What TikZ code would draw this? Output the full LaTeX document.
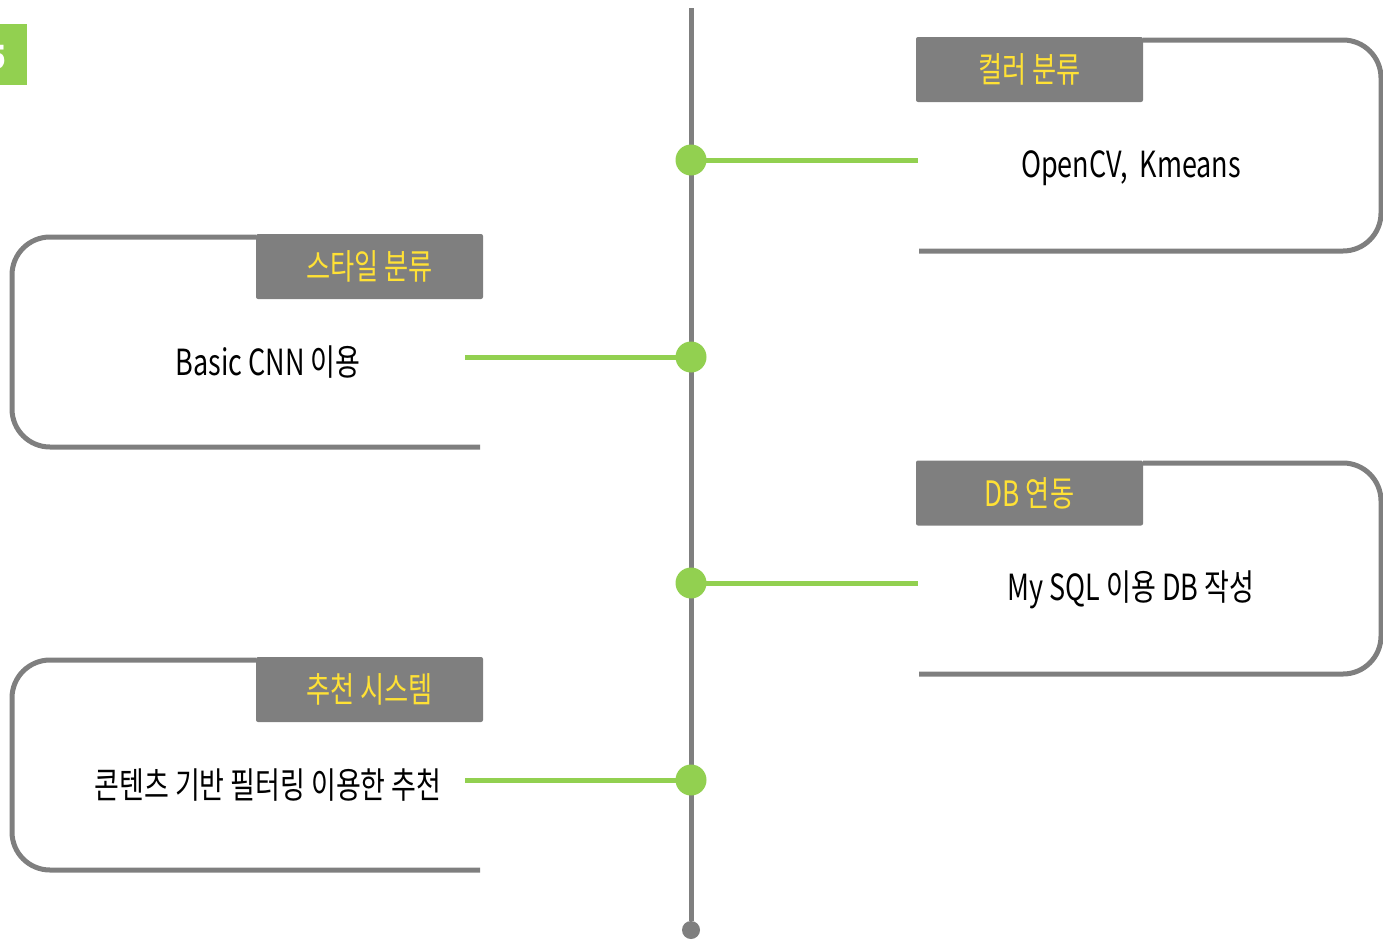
\documentclass[tikz,border=0pt]{standalone}
\usepackage{fontspec}
\setmainfont[FakeStretch=0.75]{Noto Sans CJK KR}
\definecolor{tlgray}{HTML}{7F7F7F}
\definecolor{tlgreen}{HTML}{92D050}
\definecolor{tlyellow}{HTML}{FFE135}
\tikzset{
  frame/.style={draw=tlgray, line width=5pt, rounded corners=38pt},
  axis/.style={draw=tlgray, line width=5pt},
  gline/.style={draw=tlgreen, line width=5pt},
  gdot/.style={circle, fill=tlgreen, minimum size=31pt, inner sep=0pt},
  enddot/.style={circle, fill=tlgray, minimum size=18pt, inner sep=0pt},
  tag/.style={fill=tlgray, rounded corners=2pt, minimum width=227pt, minimum height=65pt, inner sep=0pt,
    text=tlyellow, font=\fontsize{35}{42}\selectfont},
  body/.style={inner sep=0pt, text=black, font=\fontsize{36}{43}\selectfont},
}
\begin{document}
\begin{tikzpicture}[x=1pt,y=-1pt]
\useasboundingbox (0,0) rectangle (1383,940);
\clip (0,0) rectangle (1383,940);
% corner tab
\fill[tlgreen] (0,24) rectangle (27,85);
\node[anchor=east, text=white, inner sep=0pt, font=\fontsize{32}{38}\selectfont\bfseries] (tab) at (6,57) {5};
% timeline
\coordinate (top) at (691,8);
\node[enddot] (end) at (691,930) {};
\draw[axis] (top) -- (end);
% frames
\draw[frame] (1143,40) -- (1381,40) -- (1381,251) -- (919,251);
\draw[frame] (256,237) -- (12,237) -- (12,447) -- (480,447);
\draw[frame] (1143,463) -- (1381,463) -- (1381,674) -- (919,674);
\draw[frame] (256,660) -- (12,660) -- (12,870) -- (480,870);
% tags
\node[tag] (t1) at (1029.5,69.5) {컬러 분류};
\node[tag] (t2) at (369.5,266.5) {스타일 분류};
\node[tag] (t3) at (1029.5,493) {DB 연동};
\node[tag] (t4) at (369.5,689.5) {추천 시스템};
% body texts
\node[body] (b1) at (1131,168) {OpenCV,\ \ Kmeans};
\node[body] (b2) at (268,362) {Basic CNN 이용};
\node[body] (b3) at (1131,590) {My SQL 이용 DB 작성};
\node[body] (b4) at (268,785) {콘텐츠 기반 필터링 이용한 추천};
% connectors
\coordinate (c1) at (918,160);
\coordinate (c2) at (465,357);
\coordinate (c3) at (918,583);
\coordinate (c4) at (465,780);
\draw[gline] (691,160) -- (c1);
\draw[gline] (c2) -- (691,357);
\draw[gline] (691,583) -- (c3);
\draw[gline] (c4) -- (691,780);
\node[gdot] (d1) at (691,160) {};
\node[gdot] (d2) at (691,357) {};
\node[gdot] (d3) at (691,583) {};
\node[gdot] (d4) at (691,780) {};
\end{tikzpicture}
\end{document}
